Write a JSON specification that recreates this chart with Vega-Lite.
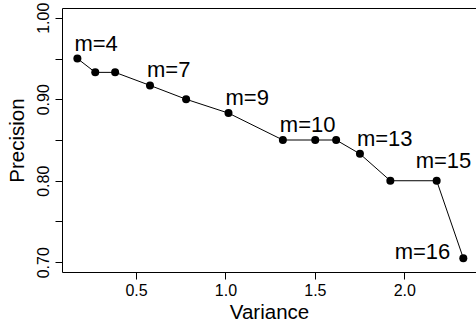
{
  "$schema": "https://vega.github.io/schema/vega-lite/v6.json",
  "autosize": {"type": "none"},
  "padding": {"left": 62, "top": 8, "right": 0, "bottom": 54},
  "width": 414,
  "height": 264,
  "background": "white",
  "config": {
    "view": {"stroke": null},
    "font": "Liberation Sans",
    "axis": {
      "grid": false,
      "domainColor": "black",
      "tickColor": "black",
      "labelColor": "black",
      "titleColor": "black",
      "domainWidth": 1,
      "tickWidth": 1,
      "tickSize": 7,
      "labelFont": "Liberation Sans",
      "titleFont": "Liberation Sans",
      "titleFontWeight": "normal"
    }
  },
  "data": {
    "values": [
      {"variance": 0.172, "precision": 0.950, "label": "m=4"},
      {"variance": 0.272, "precision": 0.933, "label": ""},
      {"variance": 0.383, "precision": 0.933, "label": ""},
      {"variance": 0.578, "precision": 0.917, "label": "m=7"},
      {"variance": 0.780, "precision": 0.900, "label": ""},
      {"variance": 1.017, "precision": 0.883, "label": "m=9"},
      {"variance": 1.321, "precision": 0.850, "label": "m=10"},
      {"variance": 1.502, "precision": 0.850, "label": ""},
      {"variance": 1.619, "precision": 0.850, "label": ""},
      {"variance": 1.752, "precision": 0.833, "label": "m=13"},
      {"variance": 1.922, "precision": 0.800, "label": ""},
      {"variance": 2.181, "precision": 0.800, "label": "m=15"},
      {"variance": 2.330, "precision": 0.705, "label": "m=16"}
    ]
  },
  "resolve": {"axis": {"x": "independent"}},
  "layer": [
    {
      "mark": {"type": "line", "color": "black", "strokeWidth": 1},
      "encoding": {
        "x": {
          "field": "variance", "type": "quantitative",
          "scale": {"domain": [0.086, 2.401], "nice": false, "zero": false},
          "axis": {
            "orient": "bottom", "values": [0.5, 1, 1.5, 2], "format": ".1f",
            "labelFontSize": 16, "labelPadding": 3, "labelBaseline": "top",
            "labelFlush": false, "labelOverlap": false,
            "title": "Variance", "titleFontSize": 20.5, "titleBaseline": "alphabetic", "titleY": 46
          }
        },
        "y": {
          "field": "precision", "type": "quantitative", "title": "Precision",
          "scale": {"domain": [0.688, 1.012], "nice": false, "zero": false},
          "axis": {
            "values": [0.7, 0.75, 0.8, 0.85, 0.9, 0.95, 1.0],
            "labelExpr": "(round(datum.value*100) % 10 == 0) ? format(datum.value, '.2f') : ''",
            "labelAngle": -90, "labelAlign": "center", "labelBaseline": "bottom",
            "labelPadding": 4, "labelFontSize": 16, "labelFlush": false, "labelOverlap": false,
            "title": "Precision", "titleFontSize": 20.5, "titleAngle": -90,
            "titleBaseline": "alphabetic", "titleX": -39, "titleY": 132, "titleAlign": "center"
          }
        }
      }
    },
    {
      "mark": {"type": "circle", "color": "black", "opacity": 1, "size": 64},
      "encoding": {
        "x": {
          "field": "variance", "type": "quantitative",
          "axis": {"orient": "top", "labels": false, "ticks": false, "title": null, "domain": true}
        },
        "y": {"field": "precision", "type": "quantitative", "title": "Precision"}
      }
    },
    {
      "transform": [{"filter": "datum.label != '' && datum.label != 'm=15' && datum.label != 'm=16'"}],
      "mark": {"type": "text", "align": "left", "baseline": "alphabetic", "dx": -3, "dy": -8, "fontSize": 22, "color": "black"},
      "encoding": {
        "x": {"field": "variance", "type": "quantitative", "axis": null},
        "y": {"field": "precision", "type": "quantitative", "title": "Precision"},
        "text": {"field": "label"}
      }
    },
    {
      "transform": [{"filter": "datum.label == 'm=15'"}],
      "mark": {"type": "text", "align": "left", "baseline": "alphabetic", "dx": -21, "dy": -13, "fontSize": 22, "color": "black"},
      "encoding": {
        "x": {"field": "variance", "type": "quantitative", "axis": null},
        "y": {"field": "precision", "type": "quantitative", "title": "Precision"},
        "text": {"field": "label"}
      }
    },
    {
      "transform": [{"filter": "datum.label == 'm=16'"}],
      "mark": {"type": "text", "align": "right", "baseline": "alphabetic", "dx": -13, "dy": 1, "fontSize": 22, "color": "black"},
      "encoding": {
        "x": {"field": "variance", "type": "quantitative", "axis": null},
        "y": {"field": "precision", "type": "quantitative", "title": "Precision"},
        "text": {"field": "label"}
      }
    }
  ]
}
